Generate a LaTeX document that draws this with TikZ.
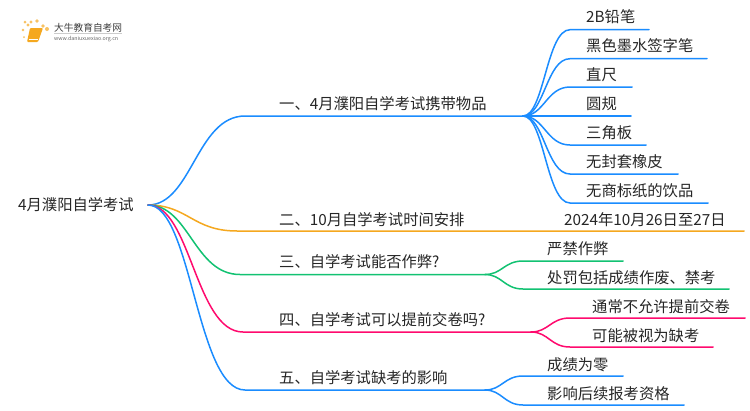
\documentclass[tikz,border=0pt]{standalone}
\usepackage{fontspec}
\setmainfont{Noto Sans CJK SC}
\definecolor{cblue}{HTML}{1A8CFF}
\definecolor{corange}{HTML}{F5A81F}
\definecolor{cgreen}{HTML}{12C272}
\definecolor{cpink}{HTML}{FF0A6E}
\definecolor{ctext}{HTML}{262626}
\tikzset{
  lbl/.style={anchor=base west,inner sep=0pt,text=ctext,font=\fontsize{15.3}{17}\selectfont},
  conn/.style={line width=1.5pt,line cap=round},
}
\newcommand{\sbranch}[4]{% colour, from, to-start, to-end
  \draw[conn,#1] (#2) .. controls ($(#2)!0.45!(#2-|#3)$) and ($(#3)!0.5!(#2|-#3)$) .. (#3) -- (#4);}
\usetikzlibrary{calc}
\begin{document}
\begin{tikzpicture}[x=1pt,y=-1pt]
\useasboundingbox (0,0) rectangle (750,410);
\fill[white] (0,0) rectangle (750,410);
% logo
\foreach \a/\b/\r in {25/22/1.5,23/30/1.3,24/37/1,28/25/1.6,31/22/1.7,37/21/1.8,43/26/1.8,47/29/2}
  \fill[corange!70] (\a,\b) circle (\r);
\fill[corange,rounded corners=1pt] (30,28) -- (43,28) -- (38,42) -- (27,42) -- cycle;
\draw[white,line width=.5pt] (29,39.5) -- (38,39.5);
\draw[black!20,line width=.5pt] (54,33) -- (122,33);
\node[anchor=base west,inner sep=0pt,text=black!75,font=\fontsize{9.7}{11}\selectfont] (logotext) at (54,31) {大牛教育自考网};
\node[anchor=base west,inner sep=0pt,text=black!60,font=\fontsize{5.3}{6}\selectfont] (logourl) at (54,40) {www.daniuxuexiao.org.cn};
% nodes
\node[lbl] (root) at (18,210) {4月濮阳自学考试};
\node[lbl] (b1) at (279,109) {一、4月濮阳自学考试携带物品};
\node[lbl] (b2) at (279,225) {二、10月自学考试时间安排};
\node[lbl] (b3) at (279,267) {三、自学考试能否作弊?};
\node[lbl] (b4) at (279,325) {四、自学考试可以提前交卷吗?};
\node[lbl] (b5) at (279,383) {五、自学考试缺考的影响};
\node[lbl] (l1) at (586,22) {2B铅笔};
\node[lbl] (l2) at (586,51) {黑色墨水签字笔};
\node[lbl] (l3) at (586,80) {直尺};
\node[lbl] (l4) at (586,109) {圆规};
\node[lbl] (l5) at (586,138) {三角板};
\node[lbl] (l6) at (586,167) {无封套橡皮};
\node[lbl] (l7) at (586,196) {无商标纸的饮品};
\node[lbl] (m1) at (564,225) {2024年10月26日至27日};
\node[lbl] (n1) at (547,254) {严禁作弊};
\node[lbl] (n2) at (547,283) {处罚包括成绩作废、禁考};
\node[lbl] (p1) at (592,312) {通常不允许提前交卷};
\node[lbl] (p2) at (592,341) {可能被视为缺考};
\node[lbl] (q1) at (547,370) {成绩为零};
\node[lbl] (q2) at (547,399) {影响后续报考资格};
% connector points
\coordinate (o) at (148,205);
\coordinate (j1) at (523,116);
\coordinate (s1) at (245,116);
\coordinate (s2) at (237,231); \coordinate (e2) at (744,231);
\coordinate (s3) at (240,274.5); \coordinate (j3) at (485,274.5);
\coordinate (s4) at (243,332); \coordinate (j4) at (531,332);
\coordinate (s5) at (245,390); \coordinate (j5) at (485,390);
% main branches
\sbranch{cblue}{o}{s1}{j1}
\sbranch{corange}{o}{s2}{e2}
\sbranch{cgreen}{o}{s3}{j3}
\sbranch{cpink}{o}{s4}{j4}
\sbranch{cblue}{o}{s5}{j5}
% leaves
\foreach \y/\xe/\n in {29.7/649/a,58.7/707/b,87/632/c,116/631/d,145/646/e,174/678/f,203/708/g}{
  \coordinate (s\n) at (570,\y); \coordinate (e\n) at (\xe,\y);
  \sbranch{cblue}{j1}{s\n}{e\n}
}
\coordinate (sh) at (523,261); \coordinate (eh) at (623,261);
\coordinate (si) at (523,289); \coordinate (ei) at (729,289);
\coordinate (sj) at (570,318); \coordinate (ej) at (745,318);
\coordinate (sk) at (570,347); \coordinate (ek) at (713,347);
\coordinate (sl) at (523,376); \coordinate (el) at (623,376);
\coordinate (sm) at (523,405); \coordinate (em) at (684,405);
\sbranch{cgreen}{j3}{sh}{eh}
\sbranch{cgreen}{j3}{si}{ei}
\sbranch{cpink}{j4}{sj}{ej}
\sbranch{cpink}{j4}{sk}{ek}
\sbranch{cblue}{j5}{sl}{el}
\sbranch{cblue}{j5}{sm}{em}
\end{tikzpicture}
\end{document}
